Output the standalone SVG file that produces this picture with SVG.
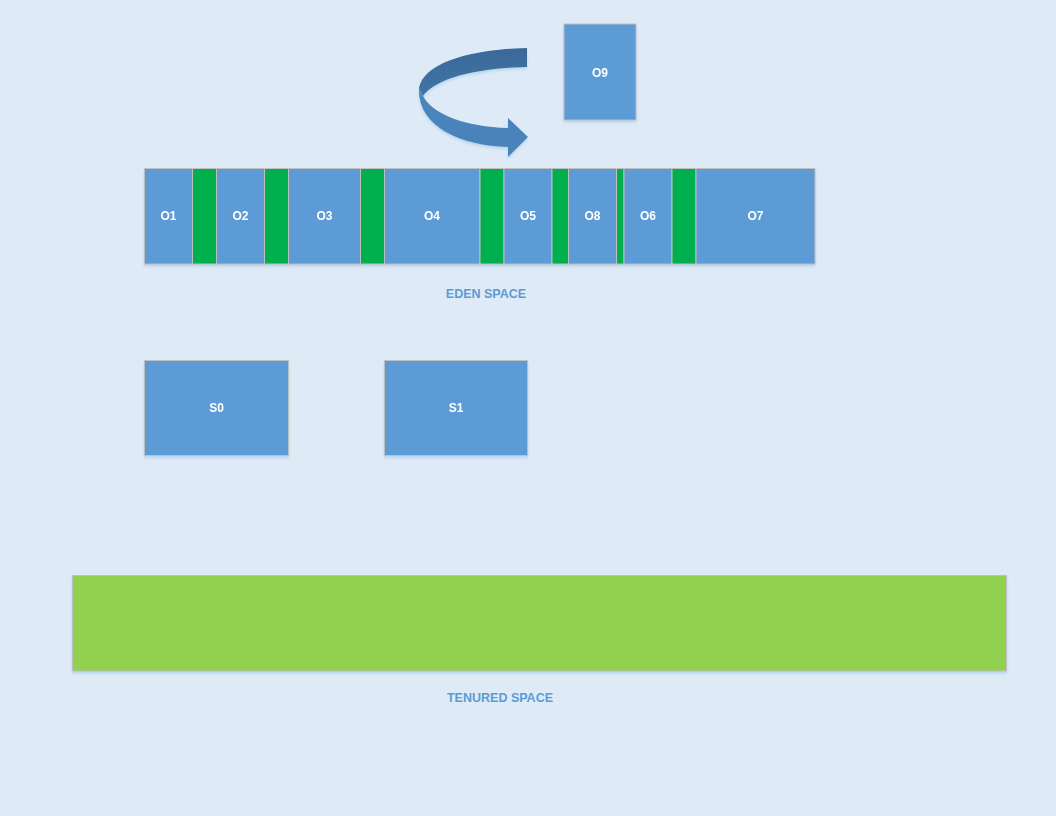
<svg xmlns="http://www.w3.org/2000/svg" width="1056" height="816" viewBox="0 0 1056 816">
<defs>
<style>
.obj{fill:#5B9BD5;stroke:#BFBFBF;stroke-width:1}
.free{fill:#00B050;stroke:#BFBFBF;stroke-width:1}
.ten{fill:#92D050;stroke:#BFBFBF;stroke-width:1}
.lbl{font-family:"Liberation Sans",Arial,sans-serif;font-size:12px;font-weight:bold;fill:#FFFFFF;text-anchor:middle}
.cap{font-family:"Liberation Sans",Arial,sans-serif;font-size:12.5px;font-weight:bold;fill:#5B9BD5;text-anchor:middle}
</style>
<filter id="sh" x="-5%" y="-5%" width="110%" height="120%">
<feGaussianBlur in="SourceAlpha" stdDeviation="1.5"/>
<feOffset dx="0" dy="2" result="b"/>
<feFlood flood-color="#9DC3E6" flood-opacity="0.6"/>
<feComposite in2="b" operator="in"/>
<feMerge><feMergeNode/><feMergeNode in="SourceGraphic"/></feMerge>
</filter>
<linearGradient id="gTop" x1="0" y1="0" x2="0" y2="1">
<stop offset="0" stop-color="#3A6A98"/>
<stop offset="1" stop-color="#3F74A6"/>
</linearGradient>
<linearGradient id="gBot" x1="0" y1="0" x2="0" y2="1">
<stop offset="0" stop-color="#4A85BC"/>
<stop offset="1" stop-color="#4B82B8"/>
</linearGradient>
</defs>
<rect x="0" y="0" width="1056" height="816" fill="#DEEBF7"/>

<g id="connectors">
<g id="curved-arrow" filter="url(#sh)">
<path d="M527,48 C472,49 424,62 419,88 L423,96 C434,80 470,68 527,67 Z" fill="url(#gTop)"/>
<path d="M419,88 C417,126 460,146 508,147 L508,157 L528,137 L508,118 L508,128 C466,127 432,114 423,96 Z" fill="url(#gBot)"/>
</g>
</g>

<g id="O9" filter="url(#sh)"><rect class="obj" x="564" y="24" width="72" height="96"/><text class="lbl" x="600" y="77">O9</text></g>

<g id="eden" filter="url(#sh)">
<g id="O1"><rect class="obj" x="144.5" y="168.5" width="48" height="95.5"/><text class="lbl" x="168.5" y="220">O1</text></g>
<g id="G1"><rect class="free" x="192.5" y="168.5" width="24" height="95.5"/></g>
<g id="O2"><rect class="obj" x="216.5" y="168.5" width="48" height="95.5"/><text class="lbl" x="240.5" y="220">O2</text></g>
<g id="G2"><rect class="free" x="264.5" y="168.5" width="24" height="95.5"/></g>
<g id="O3"><rect class="obj" x="288.5" y="168.5" width="72" height="95.5"/><text class="lbl" x="324.5" y="220">O3</text></g>
<g id="G3"><rect class="free" x="360.5" y="168.5" width="24" height="95.5"/></g>
<g id="O4"><rect class="obj" x="384.5" y="168.5" width="95.5" height="95.5"/><text class="lbl" x="432" y="220">O4</text></g>
<g id="G4"><rect class="free" x="480" y="168.5" width="24" height="95.5"/></g>
<g id="O5"><rect class="obj" x="504" y="168.5" width="48" height="95.5"/><text class="lbl" x="528" y="220">O5</text></g>
<g id="G5"><rect class="free" x="552" y="168.5" width="16.5" height="95.5"/></g>
<g id="O8"><rect class="obj" x="568.5" y="168.5" width="48" height="95.5"/><text class="lbl" x="592.5" y="220">O8</text></g>
<g id="G6"><rect class="free" x="616.5" y="168.5" width="7.5" height="95.5"/></g>
<g id="O6"><rect class="obj" x="624" y="168.5" width="48" height="95.5"/><text class="lbl" x="648" y="220">O6</text></g>
<g id="G7"><rect class="free" x="672" y="168.5" width="24" height="95.5"/></g>
<g id="O7"><rect class="obj" x="696" y="168.5" width="119" height="95.5"/><text class="lbl" x="755.5" y="220">O7</text></g>
</g>
<g id="eden-label"><text class="cap" x="486" y="298">EDEN SPACE</text></g>

<g id="S0" filter="url(#sh)"><rect class="obj" x="144.5" y="360.5" width="144" height="95"/><text class="lbl" x="216.5" y="412">S0</text></g>
<g id="S1" filter="url(#sh)"><rect class="obj" x="384.5" y="360.5" width="143" height="95"/><text class="lbl" x="456" y="412">S1</text></g>

<g id="tenured" filter="url(#sh)"><rect class="ten" x="72.5" y="575.5" width="934" height="95.5"/></g>
<g id="tenured-label"><text class="cap" x="500" y="702">TENURED SPACE</text></g>
</svg>
